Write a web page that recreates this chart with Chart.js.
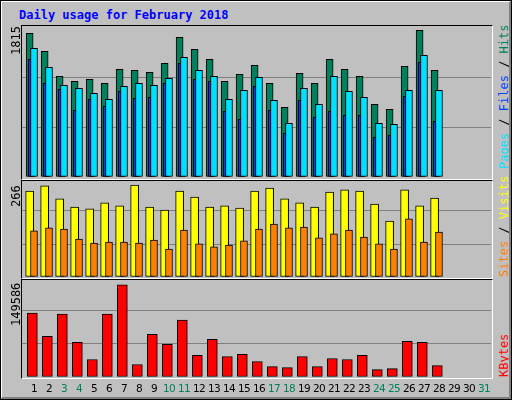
<!DOCTYPE html>
<html><head><meta charset="utf-8">
<script src="https://cdn.jsdelivr.net/npm/chart.js@4/dist/chart.umd.min.js"></script>
<style>
body{margin:0;background:#fff}
#wrap{position:relative;width:510px;height:398px;background:#c0c0c0;border:1px solid #000;overflow:hidden}
#wrap:after{content:'';position:absolute;left:0;top:0;right:0;bottom:0;border-right:2px solid #808080;border-bottom:2px solid #808080;border-left:1px solid #fff;border-top:1px solid #fff;pointer-events:none}
.t{position:absolute;font-family:"DejaVu Sans Mono",monospace;white-space:nowrap}
#title{left:18px;top:7px;font-size:12px;font-weight:bold;color:#0000ff}
.frame{position:absolute;left:20px;width:470px;border-left:1px solid #000;border-top:1px solid #000;border-right:1px solid #fff;border-bottom:1px solid #fff}
.cv{position:absolute;left:21px;width:469px}
.rot{position:absolute;transform-origin:0 0;transform:rotate(-90deg);font-family:"DejaVu Sans Mono",monospace;font-size:12px;white-space:nowrap}
.day{position:absolute;top:381px;width:20px;margin-left:-10px;text-align:center;font-family:"DejaVu Sans",sans-serif;font-size:10.5px;letter-spacing:-0.6px}
</style></head><body>
<div id="wrap">
<div id="title" class="t">Daily usage for February 2018</div>
<div class="frame" style="top:24px;height:153px"></div>
<div class="frame" style="top:179px;height:97px"></div>
<div class="frame" style="top:278px;height:98px"></div>
<div class="cv" style="top:26px;height:150px"><canvas id="c1"></canvas></div>
<div class="cv" style="top:177px;height:99px"><canvas id="c2"></canvas></div>
<div class="cv" style="top:276px;height:100px"><canvas id="c3"></canvas></div>
<div class="rot" style="left:8px;top:54px;color:#000">1815</div>
<div class="rot" style="left:8px;top:206px;color:#000">266</div>
<div class="rot" style="left:8px;top:325px;color:#000">149586</div>
<div class="rot" style="left:496px;top:168px"><span style="color:#00e0ff">Pages</span> / <span style="color:#0040ff">Files</span> / <span style="color:#00805c">Hits</span></div>
<div class="rot" style="left:496px;top:276px"><span style="color:#ff8000">Sites</span> / <span style="color:#ffff00">Visits</span></div>
<div class="rot" style="left:496px;top:376px"><span style="color:#ff0000">KBytes</span></div>
<div id="days"></div>
</div>
<script>
const days = Array.from({length:31},(_,i)=>i+1);
const weekend = [3,4,10,11,17,18,24,25,31];
const hits  = [1738,1520,1218,1157,1182,1133,1303,1291,1266,1375,1690,1545,1424,1157,1242,1351,1133,843,1254,1133,1424,1303,1218,879,819,1339,1775,1291];
const files = [1424,1133,1061,807,940,855,1036,952,964,1133,1375,1182,1157,795,698,1097,807,528,928,722,795,746,746,480,504,976,1387,674];
const pages = [1557,1327,1109,1073,1012,940,1097,1133,1109,1194,1448,1291,1218,940,1049,1206,928,649,1073,879,1218,1036,964,649,637,1049,1472,1049];
const visits = [231,245,210,188,183,199,191,247,188,180,231,215,188,191,185,231,239,210,199,188,228,234,231,196,150,234,191,212];
const sites  = [124,132,129,102,91,94,94,91,99,75,126,89,81,86,97,129,142,132,134,105,116,126,107,89,75,156,94,121];
const kbytes = [95700,60950,94190,51880,26190,94190,138010,18640,63970,48860,85120,32240,56410,30730,33750,23170,15610,14100,30730,15610,27700,26190,32240,11080,12590,53390,51880,17130];
const maxHits = 1815, maxVisits = 266, maxKB = 149586;

const pts = (arr, off) => arr.map((v,i)=>({x:days[i]+off, y:v}));
const ds = (label, arr, off, color, w, order) => ({label, data:pts(arr,off), backgroundColor:color, borderColor:'#000', borderWidth:1, borderSkipped:false, barThickness:w, grouped:false, order});

function chart(id, datasets, max){
  new Chart(document.getElementById(id), {
    type:'bar',
    data:{datasets},
    options:{
      responsive:true, maintainAspectRatio:false, animation:false,
      layout:{padding:0},
      plugins:{legend:{display:false}, tooltip:{enabled:false}},
      scales:{
        x:{type:'linear', offset:false, min:0.2, max:31.47, display:false},
        y:{min:0, max, display:true, border:{display:false}, ticks:{display:false, stepSize:max/3}, grid:{color:ctx=>ctx.tick.value>0 && ctx.tick.value<max ? '#808080' : 'rgba(0,0,0,0)', drawTicks:false, lineWidth:1}}
      }
    }
  });
}
chart('c1', [
  ds('Pages', pages, 0, '#00e0ff', 7, 0),
  ds('Files', files, -0.15, '#0040ff', 7, 1),
  ds('Hits', hits, -0.29, '#00805c', 7, 2)
], maxHits);
chart('c2', [
  ds('Sites', sites, 0, '#ff8000', 7, 0),
  ds('Visits', visits, -0.29, '#ffff00', 8, 1)
], maxVisits);
chart('c3', [ds('KBytes', kbytes, -0.11, '#ff0000', 10, 0)], maxKB);

const box = document.getElementById('days');
days.forEach((d,i)=>{
  const s = document.createElement('div');
  s.className='day'; s.textContent=d;
  s.style.left = (33 + 15*i) + 'px';
  s.style.color = weekend.includes(d) ? '#00805c' : '#000';
  box.appendChild(s);
});
</script>
</body></html>
